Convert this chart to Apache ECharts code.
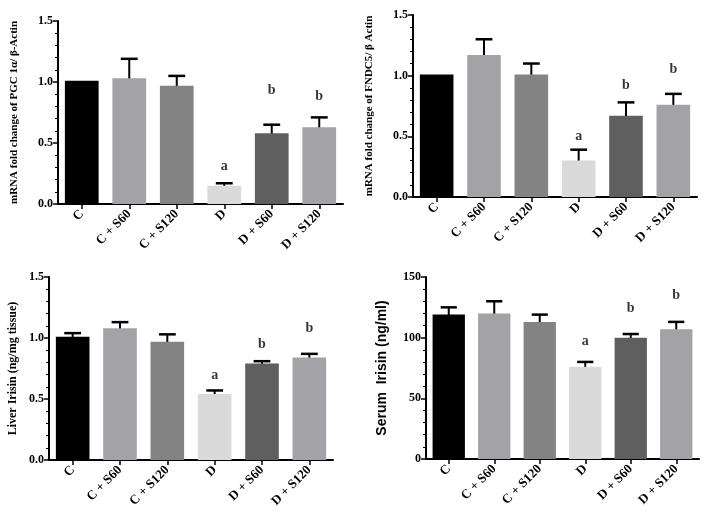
<!DOCTYPE html>
<html>
<head>
<meta charset="utf-8">
<script src="https://cdn.jsdelivr.net/npm/echarts@6/dist/echarts.min.js"></script>
<style>html,body{margin:0;padding:0;background:#fff}#c{width:708px;height:525px}</style>
</head>
<body>
<div id="c"></div>
<script>
var categories = ['C', 'C + S60', 'C + S120', 'D', 'D + S60', 'D + S120'];
var barColors = ['#000000', '#a3a3a7', '#838383', '#dadada', '#5f5f5f', '#a3a3a7'];

var pgcMean = [1.01, 1.03, 0.97, 0.15, 0.58, 0.63];
var pgcErrTop = [1.01, 1.19, 1.05, 0.17, 0.65, 0.71];
var pgcLetters = ['', '', '', 'a', 'b', 'b'];
var pgcLetterY = [null, null, null, 0.31, 0.93, 0.88];

var fndcMean = [1.01, 1.17, 1.01, 0.30, 0.67, 0.76];
var fndcErrTop = [1.01, 1.30, 1.10, 0.39, 0.78, 0.85];
var fndcLetters = ['', '', '', 'a', 'b', 'b'];
var fndcLetterY = [null, null, null, 0.50, 0.92, 1.05];

var liverMean = [1.01, 1.08, 0.97, 0.54, 0.79, 0.84];
var liverErrTop = [1.04, 1.13, 1.03, 0.57, 0.81, 0.87];
var liverLetters = ['', '', '', 'a', 'b', 'b'];
var liverLetterY = [null, null, null, 0.69, 0.95, 1.08];

var serumMean = [119, 120, 113, 76, 100, 107];
var serumErrTop = [125, 130, 119, 80, 103, 113];
var serumLetters = ['', '', '', 'a', 'b', 'b'];
var serumLetterY = [null, null, null, 97, 124, 135];

var panels = [
  {title: 'mRNA fold change of PGC 1\u03b1/ \u03b2-Actin', mean: pgcMean, err: pgcErrTop, letters: pgcLetters, ly: pgcLetterY,
   grid: {left: 58, top: 21, width: 285, height: 183}, max: 1.5, interval: 0.5, dec: 1, nameGap: 38, nameFont: 'Liberation Serif', nameSize: 11},
  {title: 'mRNA fold change of FNDC5/ \u03b2 Actin', mean: fndcMean, err: fndcErrTop, letters: fndcLetters, ly: fndcLetterY,
   grid: {left: 413, top: 15, width: 284, height: 182}, max: 1.5, interval: 0.5, dec: 1, nameGap: 38, nameFont: 'Liberation Serif', nameSize: 11},
  {title: 'Liver Irisin (ng/mg tissue)', mean: liverMean, err: liverErrTop, letters: liverLetters, ly: liverLetterY,
   grid: {left: 49, top: 277, width: 284, height: 183}, max: 1.5, interval: 0.5, dec: 1, nameGap: 30, nameFont: 'Liberation Serif', nameSize: 12},
  {title: 'Serum  Irisin (ng/ml)', mean: serumMean, err: serumErrTop, letters: serumLetters, ly: serumLetterY,
   grid: {left: 426, top: 277, width: 273, height: 182}, max: 150, interval: 50, dec: 0, nameGap: 37, nameFont: 'Liberation Sans', nameSize: 14}
];

var grids = [], xAxes = [], yAxes = [], series = [];
panels.forEach(function (p, i) {
  grids.push(p.grid);
  xAxes.push({
    type: 'category', gridIndex: i, data: categories,
    axisLine: {lineStyle: {color: '#000', width: 2}},
    axisTick: {show: true, alignWithLabel: true, length: 5, lineStyle: {color: '#000', width: 1.5}},
    axisLabel: {rotate: 45, color: '#000', fontFamily: 'Liberation Serif', fontWeight: 'bold', fontSize: 13, margin: 8, interval: 0},
    splitLine: {show: false}
  });
  yAxes.push({
    type: 'value', gridIndex: i, min: 0, max: p.max, interval: p.interval,
    name: p.title, nameLocation: 'middle', nameGap: p.nameGap,
    nameTextStyle: {color: '#000', fontFamily: p.nameFont, fontWeight: 'bold', fontSize: p.nameSize},
    axisLine: {show: true, lineStyle: {color: '#000', width: 2}},
    axisTick: {show: true, length: 5, lineStyle: {color: '#000', width: 1.5}},
    minorTick: {show: true, splitNumber: 5, length: 3, lineStyle: {color: '#000', width: 1}},
    axisLabel: {color: '#000', fontFamily: 'Liberation Serif', fontWeight: 'bold', fontSize: 12, margin: 5,
      formatter: (function (d) { return function (v) { return v.toFixed(d); }; })(p.dec)},
    splitLine: {show: false}
  });
  series.push({
    type: 'bar', xAxisIndex: i, yAxisIndex: i, barWidth: '71%',
    data: p.mean.map(function (v, k) { return {value: v, itemStyle: {color: barColors[k]}}; }),
    z: 2
  });
  series.push({
    type: 'custom', xAxisIndex: i, yAxisIndex: i, z: 1,
    data: p.err.map(function (v, k) { return [k, p.mean[k], v]; }),
    renderItem: function (params, api) {
      var x = api.value(0);
      var top = api.coord([x, api.value(2)]);
      var base = api.coord([x, api.value(1)]);
      var bw = api.size([1, 0])[0] * 0.71;
      var cap = bw * 0.25;
      if (api.value(2) <= api.value(1)) return {type: 'group', children: []};
      return {type: 'group', children: [
        {type: 'line', shape: {x1: top[0], y1: top[1], x2: base[0], y2: base[1] + 2}, style: {stroke: '#000', lineWidth: 2}},
        {type: 'line', shape: {x1: top[0] - cap, y1: top[1], x2: top[0] + cap, y2: top[1]}, style: {stroke: '#000', lineWidth: 2.5}}
      ]};
    }
  });
  series.push({
    type: 'scatter', xAxisIndex: i, yAxisIndex: i, symbolSize: 0,
    data: p.ly.map(function (v, k) { return v == null ? null : {value: [k, v], label: {formatter: p.letters[k]}}; }).filter(function (d) { return d; }),
    label: {show: true, position: 'inside', color: '#000', fontFamily: 'Liberation Serif', fontWeight: 'bold', fontSize: 14},
    z: 5
  });
});

var chart = echarts.init(document.getElementById('c'), null, {renderer: 'canvas'});
chart.setOption({
  animation: false,
  backgroundColor: '#fff',
  grid: grids, xAxis: xAxes, yAxis: yAxes, series: series
});
</script>
</body>
</html>
